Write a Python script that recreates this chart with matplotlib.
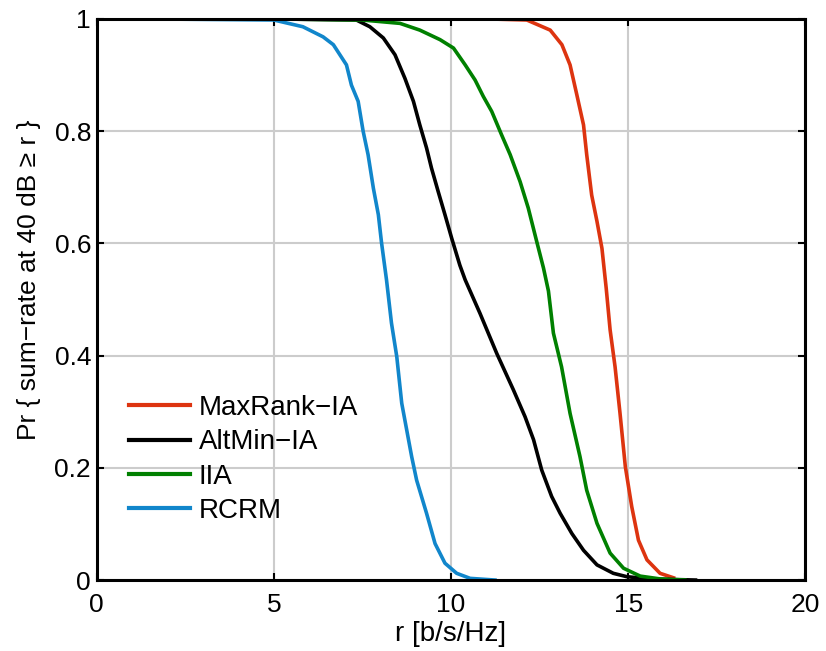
import matplotlib
matplotlib.use("Agg")
import matplotlib.pyplot as plt
from matplotlib.ticker import FuncFormatter

plt.rcParams['font.family'] = ['Liberation Sans', 'DejaVu Sans']

# curves (r in b/s/Hz, probability)
maxrank_r = [11.0, 12.14, 12.8, 13.13, 13.36, 13.55, 13.74, 13.83, 13.97, 14.12,
             14.26, 14.38, 14.49, 14.63, 14.77, 14.92, 15.10, 15.29, 15.53, 15.9, 16.28]
maxrank_p = [1.0, 0.998, 0.980, 0.954, 0.918, 0.865, 0.811, 0.758, 0.686, 0.639,
             0.591, 0.52, 0.446, 0.38, 0.297, 0.202, 0.131, 0.071, 0.036, 0.012, 0.004]

altmin_r = [5.0, 7.33, 7.71, 8.09, 8.42, 8.70, 8.94, 9.12, 9.31, 9.45, 9.64, 9.83,
            10.02, 10.25, 10.40, 10.82, 11.29, 11.76, 12.09, 12.33, 12.56, 12.84,
            13.08, 13.41, 13.74, 14.12, 14.58, 14.96, 15.6, 16.9]
altmin_p = [1.0, 0.998, 0.986, 0.966, 0.936, 0.894, 0.853, 0.811, 0.77, 0.734, 0.692, 0.651,
            0.609, 0.561, 0.535, 0.475, 0.404, 0.339, 0.291, 0.25, 0.196, 0.149,
            0.119, 0.083, 0.053, 0.027, 0.012, 0.006, 0.002, 0.0]

iia_r = [4.9, 7.5, 8.56, 9.12, 9.69, 10.07, 10.40, 10.68, 10.91, 11.15, 11.43, 11.67,
         11.95, 12.18, 12.42, 12.61, 12.75, 12.89, 13.12, 13.36, 13.64, 13.83, 14.12,
         14.49, 14.87, 15.34, 15.9, 16.6]
iia_p = [1.0, 0.998, 0.992, 0.980, 0.963, 0.948, 0.918, 0.891, 0.862, 0.835, 0.793, 0.758,
         0.71, 0.663, 0.603, 0.556, 0.515, 0.44, 0.38, 0.297, 0.22, 0.16, 0.101,
         0.048, 0.021, 0.007, 0.002, 0.0]

rcrm_r = [1.35, 5.0, 5.82, 6.39, 6.68, 7.05, 7.19, 7.38, 7.52, 7.66, 7.81, 7.95, 8.04,
          8.18, 8.32, 8.47, 8.61, 8.89, 9.03, 9.31, 9.55, 9.83, 10.16, 10.54, 11.24]
rcrm_p = [1.0, 0.998, 0.986, 0.968, 0.954, 0.918, 0.882, 0.853, 0.80, 0.758, 0.698, 0.651, 0.601,
          0.535, 0.458, 0.398, 0.315, 0.22, 0.178, 0.119, 0.065, 0.030, 0.012, 0.003, 0.0]

series = [
    ("MaxRank\u2212IA", maxrank_r, maxrank_p, "#DD3410"),
    ("AltMin\u2212IA", altmin_r, altmin_p, "#000000"),
    ("IIA", iia_r, iia_p, "#008000"),
    ("RCRM", rcrm_r, rcrm_p, "#1186CB"),
]

fig = plt.figure(figsize=(8.26, 6.51), dpi=100)
ax = fig.add_axes([0.117, 0.109, 0.858, 0.862])

for name, r, p, c in series:
    ax.plot(r, p, color=c, lw=2.6, label=name, solid_joinstyle='round')

ax.set_xlim(0, 20)
ax.set_ylim(0, 1)
ax.set_xticks([0, 5, 10, 15, 20])
ax.set_yticks([0, 0.2, 0.4, 0.6, 0.8, 1.0])
ax.yaxis.set_major_formatter(FuncFormatter(lambda v, _: f"{v:g}"))
ax.grid(True, color="#cccccc", lw=1.5)
ax.set_axisbelow(True)
ax.tick_params(direction='in', length=5, width=1.5, top=True, right=True,
               labelsize=19)
ax.tick_params(axis='x', pad=9)
ax.tick_params(axis='y', pad=4)
for s in ax.spines.values():
    s.set_linewidth(2.2)

ax.set_xlabel("r [b/s/Hz]", fontsize=20, labelpad=3)
ax.set_ylabel("Pr { sum\u2212rate at 40 dB \u2265 r }", fontsize=19)
ax.yaxis.set_label_coords(-0.078, 0.535)

leg = ax.legend(loc='lower left', bbox_to_anchor=(0.03, 0.08), frameon=False,
                fontsize=20, handlelength=2.2, handletextpad=0.3, labelspacing=0.3,
                borderaxespad=0)
for h in leg.get_lines():
    h.set_linewidth(3)

fig.savefig("out.png", dpi=100)
